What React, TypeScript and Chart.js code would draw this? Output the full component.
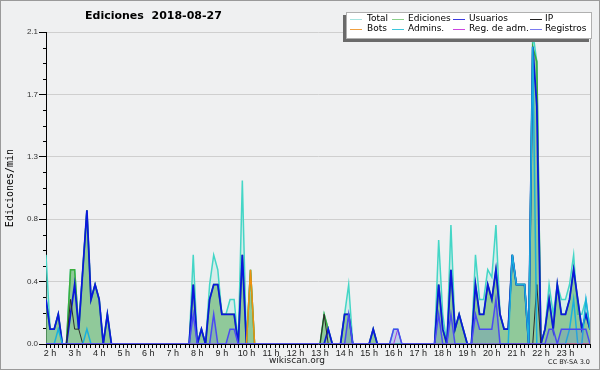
import React, { useEffect, useRef } from 'react';
import { Chart, registerables } from 'chart.js';
Chart.register(...registerables);

// Time axis: minutes since midnight, one point every 10 min from 01:50 to 24:00
const START_MIN = 110;
const STEP_MIN = 10;
const END_MIN = 1440;

// Values in edits per minute (index j -> START_MIN + 10*j)
const total = [
  0.6,0.1,0.1,0.2,0,0,0.5,0.5,0.1,0.5,0.9,0.3,0.4,0.3,0,0.2,0,0,0,0,
  0,0,0,0,0,0,0,0,0,0,0,0,0,0,0,0,0.6,0,0.1,0,
  0.4,0.6,0.5,0.2,0.2,0.3,0.3,0,1.1,0,0.5,0,0,0,0,0,0,0,0,0,
  0,0,0,0,0,0,0,0,0.2,0.1,0,0,0,0.2,0.4,0,0,0,0,0,
  0.1,0,0,0,0,0.1,0.1,0,0,0,0,0,0,0,0,0,0.7,0.2,0,0.8,
  0.1,0.2,0.1,0,0,0.6,0.3,0.3,0.5,0.45,0.8,0.2,0.1,0.1,0.6,0.4,0.4,0.4,0,2.1,
  1.9,0,0.1,0.4,0.2,0.4,0.3,0.3,0.4,0.6,0.2,0.2,0.3,0.1,
];
const ediciones = [
  0.3,0.1,0.1,0.2,0,0,0.5,0.5,0.1,0.5,0.9,0.3,0.4,0.3,0,0.2,0,0,0,0,
  0,0,0,0,0,0,0,0,0,0,0,0,0,0,0,0,0.4,0,0.1,0,
  0.3,0.4,0.4,0.2,0.2,0.2,0.2,0,0.6,0,0.5,0,0,0,0,0,0,0,0,0,
  0,0,0,0,0,0,0,0,0.2,0.1,0,0,0,0.2,0.2,0,0,0,0,0,
  0.1,0,0,0,0,0,0,0,0,0,0,0,0,0,0,0,0.4,0.1,0,0.5,
  0.1,0.2,0.1,0,0,0.4,0.2,0.2,0.4,0.3,0.5,0.2,0.1,0.1,0.6,0.4,0.4,0.4,0,2.0,
  1.9,0,0.1,0.3,0.1,0.4,0.2,0.2,0.3,0.5,0.3,0.1,0.2,0.1,
];
const usuarios = [
  0.3,0.1,0.1,0.2,0,0,0.2,0.4,0.1,0.5,0.9,0.3,0.4,0.3,0,0.2,0,0,0,0,
  0,0,0,0,0,0,0,0,0,0,0,0,0,0,0,0,0.4,0,0.1,0,
  0.3,0.4,0.4,0.2,0.2,0.2,0.2,0,0.6,0,0,0,0,0,0,0,0,0,0,0,
  0,0,0,0,0,0,0,0,0,0.1,0,0,0,0.2,0.2,0,0,0,0,0,
  0.1,0,0,0,0,0,0,0,0,0,0,0,0,0,0,0,0.4,0.1,0,0.5,
  0.1,0.2,0.1,0,0,0.4,0.2,0.2,0.4,0.3,0.5,0.2,0.1,0.1,0.6,0.4,0.4,0.4,0,2.0,
  1.6,0,0.1,0.3,0.1,0.4,0.2,0.2,0.3,0.5,0.3,0.1,0.2,0.1,
];
const ip = [
  0,0,0,0,0,0,0.3,0.1,0.1,0,0,0,0,0,0,0,0,0,0,0,
  0,0,0,0,0,0,0,0,0,0,0,0,0,0,0,0,0,0,0,0,
  0,0,0,0,0,0,0,0,0,0,0,0,0,0,0,0,0,0,0,0,
  0,0,0,0,0,0,0,0,0.2,0,0,0,0,0,0,0,0,0,0,0,
  0,0,0,0,0,0,0,0,0,0,0,0,0,0,0,0,0,0,0,0,
  0,0,0,0,0,0,0,0,0,0,0,0,0,0,0,0,0,0,0,0,
  0.4,0,0,0,0,0,0,0,0,0,0,0,0,0,
];
const bots = [
  0,0,0,0,0,0,0,0,0,0,0,0,0,0,0,0,0,0,0,0,
  0,0,0,0,0,0,0,0,0,0,0,0,0,0,0,0,0,0,0,0,
  0,0,0,0,0,0,0,0,0,0,0.5,0,0,0,0,0,0,0,0,0,
  0,0,0,0,0,0,0,0,0,0,0,0,0,0,0,0,0,0,0,0,
  0,0,0,0,0,0,0,0,0,0,0,0,0,0,0,0,0,0,0,0,
  0,0,0,0,0,0,0,0,0,0,0,0,0,0,0,0,0,0,0,0,
  0,0,0,0,0,0,0,0,0,0,0,0,0,0,
];
const admins = [
  0,0,0,0.1,0,0,0,0,0,0,0.1,0,0,0,0,0,0,0,0,0,
  0,0,0,0,0,0,0,0,0,0,0,0,0,0,0,0,0,0,0,0,
  0,0,0,0,0,0,0,0,0,0,0,0,0,0,0,0,0,0,0,0,
  0,0,0,0,0,0,0,0,0,0,0,0,0,0,0,0,0,0,0,0,
  0,0,0,0,0,0,0,0,0,0,0,0,0,0,0,0,0,0,0,0,
  0,0,0,0,0,0,0,0,0,0,0,0,0,0,0.6,0.4,0.4,0.4,0,2.0,
  0,0,0,0,0,0,0,0,0.1,0.3,0,0,0.3,0.1,
];
const regAdm = [
  0,0,0,0,0,0,0,0,0,0,0,0,0,0,0,0,0,0,0,0,
  0,0,0,0,0,0,0,0,0,0,0,0,0,0,0,0,0,0,0,0,
  0,0,0,0,0,0,0,0,0,0,0,0,0,0,0,0,0,0,0,0,
  0,0,0,0,0,0,0,0,0,0,0,0,0,0,0,0,0,0,0,0,
  0,0,0,0,0,0,0.1,0,0,0,0,0,0,0,0,0,0,0,0,0,
  0,0,0,0,0,0,0,0,0,0,0,0,0,0,0,0,0,0,0,0,
  0,0,0,0,0,0,0,0,0,0,0,0,0,0,
];
const registros = [
  0,0,0,0,0,0,0,0,0,0,0,0,0,0,0,0,0,0,0,0,
  0,0,0,0,0,0,0,0,0,0,0,0,0,0,0,0,0.2,0,0,0,
  0,0.2,0,0,0,0.1,0.1,0,0,0,0,0,0,0,0,0,0,0,0,0,
  0,0,0,0,0,0,0,0,0,0,0,0,0,0,0.2,0,0,0,0,0,
  0,0,0,0,0,0.1,0.1,0,0,0,0,0,0,0,0,0,0.2,0,0,0.2,
  0,0,0,0,0,0.2,0.1,0.1,0.1,0.1,0.3,0,0,0,0,0,0,0,0,0,
  0,0,0,0.1,0.1,0,0.1,0.1,0.1,0.1,0.1,0.1,0.1,0,
];

const yMax = 2.1;
const yMinorStep = 0.105;
const yMinorCount = 20;

const legendItems = [
  { label: 'Total', color: '#a6e4e0' },
  { label: 'Ediciones', color: '#8ad08a' },
  { label: 'Usuarios', color: '#3a3ae0' },
  { label: 'IP', color: '#222222' },
  { label: 'Bots', color: '#f0a040' },
  { label: 'Admins.', color: '#3cc6dc' },
  { label: 'Reg. de adm.', color: '#cc44e0' },
  { label: 'Registros', color: '#7a7af0' },
];

const toPoints = (arr: number[]) => arr.map((v, j) => ({ x: START_MIN + STEP_MIN * j, y: v }));

export default function App() {
  const ref = useRef<HTMLCanvasElement | null>(null);

  useEffect(() => {
    document.body.style.margin = '0';
    const canvas = ref.current;
    if (!canvas) return;

    const framePlugin = {
      id: 'frame',
      beforeDraw(chart: any) {
        const c = chart.ctx;
        c.save();
        c.fillStyle = '#eff0f1';
        c.fillRect(0, 0, chart.width, chart.height);
        c.restore();
      },
      afterDraw(chart: any) {
        const c = chart.ctx;
        const ys = chart.scales.y;
        const area = chart.chartArea;
        c.save();
        c.strokeStyle = '#000';
        c.lineWidth = 1;
        for (let k = 0; k <= yMinorCount; k++) {
          if (k % 4 === 0) continue;
          const py = Math.round(ys.getPixelForValue(k * yMinorStep)) + 0.5;
          c.beginPath();
          c.moveTo(area.left - 3, py);
          c.lineTo(area.left, py);
          c.stroke();
        }
        c.strokeStyle = '#a8a8a8';
        c.beginPath();
        c.moveTo(Math.round(area.right) + 0.5, area.top);
        c.lineTo(Math.round(area.right) + 0.5, area.bottom);
        c.stroke();
        c.strokeStyle = '#9a9a9a';
        c.strokeRect(0.5, 0.5, chart.width - 1, chart.height - 1);
        c.restore();
      },
    };

    const line = (label: string, data: number[], color: string, width: number, order: number, fill: any = false, bg = 'transparent') => ({
      label,
      data: toPoints(data),
      borderColor: color,
      backgroundColor: bg,
      borderWidth: width,
      pointRadius: 0,
      tension: 0,
      fill,
      order,
    });

    const chart = new Chart(canvas, {
      type: 'line',
      data: {
        datasets: [
          line('Total', total, '#44d6c6', 1.5, 7, 'origin', 'rgba(170,230,220,0.35)'),
          line('Ediciones', ediciones, '#3cae3c', 1.5, 6, 'origin', 'rgba(96,178,100,0.6)'),
          line('Usuarios', usuarios, '#0a18dc', 1.8, 5),
          line('IP', ip, '#2a2a2a', 1, 4),
          line('Bots', bots, '#f09010', 1.5, 3),
          line('Admins.', admins, '#1ab0dc', 1.5, 2),
          line('Reg. de adm.', regAdm, '#c030e0', 1, 1),
          line('Registros', registros, '#4a4af2', 1.5, 0, 'origin', 'rgba(90,110,220,0.22)'),
        ] as any,
      },
      options: {
        animation: false,
        responsive: false,
        devicePixelRatio: 1,
        layout: { padding: { left: 0, right: 10, top: 32, bottom: 0 } },
        plugins: {
          legend: { display: false },
          tooltip: { enabled: false },
          title: { display: false },
        },
        scales: {
          x: {
            type: 'linear',
            min: START_MIN,
            max: END_MIN,
            afterBuildTicks: (axis: any) => {
              const t: any[] = [];
              for (let m = START_MIN; m <= END_MIN; m += STEP_MIN) t.push({ value: m });
              axis.ticks = t;
            },
            afterFit: (scale: any) => { scale.height = 26; },
            ticks: {
              autoSkip: false,
              maxRotation: 0,
              minRotation: 0,
              padding: 0,
              color: '#222',
              font: { family: 'Liberation Sans Narrow, Liberation Sans, sans-serif', size: 9 },
              callback: (v: any) => {
                const m = Number(v);
                return m % 60 === 0 && m < END_MIN ? `${m / 60} h` : '';
              },
            },
            grid: { drawOnChartArea: false, tickLength: 4, tickColor: '#000' },
            border: { display: true, color: '#000', width: 1 },
          },
          y: {
            min: 0,
            max: yMax,
            afterBuildTicks: (axis: any) => {
              const t: any[] = [];
              for (let k = 0; k <= yMinorCount; k += 4) t.push({ value: Math.round(k * yMinorStep * 1000) / 1000 });
              axis.ticks = t;
            },
            afterFit: (scale: any) => { scale.width = 46; },
            ticks: {
              padding: 1,
              color: '#333',
              font: { family: 'Liberation Sans Narrow, Liberation Sans, sans-serif', size: 8 },
              callback: (v: any) => Number(v).toFixed(1),
            },
            grid: {
              color: (ctx: any) => (ctx.index > 0 ? '#cfcfcf' : 'rgba(0,0,0,0)'),
              tickLength: 7,
              tickColor: '#000',
            },
            border: { display: true, color: '#000', width: 1 },
            title: {
              display: true,
              text: 'Ediciones/min',
              color: '#000',
              font: { family: 'DejaVu Sans Mono, monospace', size: 10 },
              padding: { top: 4, bottom: 0 },
            },
          },
        },
      },
      plugins: [framePlugin],
    });
    return () => chart.destroy();
  }, []);

  const colX = [350, 392, 453, 530];
  const textX = [367, 408, 469, 545];

  return (
    <div style={{ position: 'relative', width: 600, height: 370, overflow: 'hidden' }}>
      <canvas ref={ref} width={600} height={370} style={{ width: 600, height: 370, display: 'block' }} />
      <div style={{ position: 'absolute', left: 85, top: 9, font: 'bold 11px "DejaVu Sans", sans-serif', color: '#000', whiteSpace: 'pre' }}>
        {'Ediciones  2018-08-27'}
      </div>
      <div style={{ position: 'absolute', left: 346, top: 12, width: 246, height: 27, background: '#fff', border: '1px solid #b0b0b0', boxSizing: 'border-box', boxShadow: '-3px 3px 0 #6a6a6a' }} />
      {legendItems.map((it, i) => {
        const col = i % 4;
        const row = Math.floor(i / 4);
        const cy = 19 + row * 10;
        return (
          <React.Fragment key={it.label}>
            <div style={{ position: 'absolute', left: colX[col], top: cy, width: 12, height: 1, background: it.color }} />
            <div style={{ position: 'absolute', left: textX[col], top: cy - 6, font: '9px "DejaVu Sans", sans-serif', lineHeight: '11px', color: '#000', whiteSpace: 'pre' }}>
              {it.label}
            </div>
          </React.Fragment>
        );
      })}
      <div style={{ position: 'absolute', left: 0, width: 594, top: 355, textAlign: 'center', font: '9px "DejaVu Sans", sans-serif', color: '#222' }}>
        wikiscan.org
      </div>
      <div style={{ position: 'absolute', right: 10, top: 358, font: '6.5px "DejaVu Sans", sans-serif', color: '#222' }}>
        CC BY-SA 3.0
      </div>
    </div>
  );
}
